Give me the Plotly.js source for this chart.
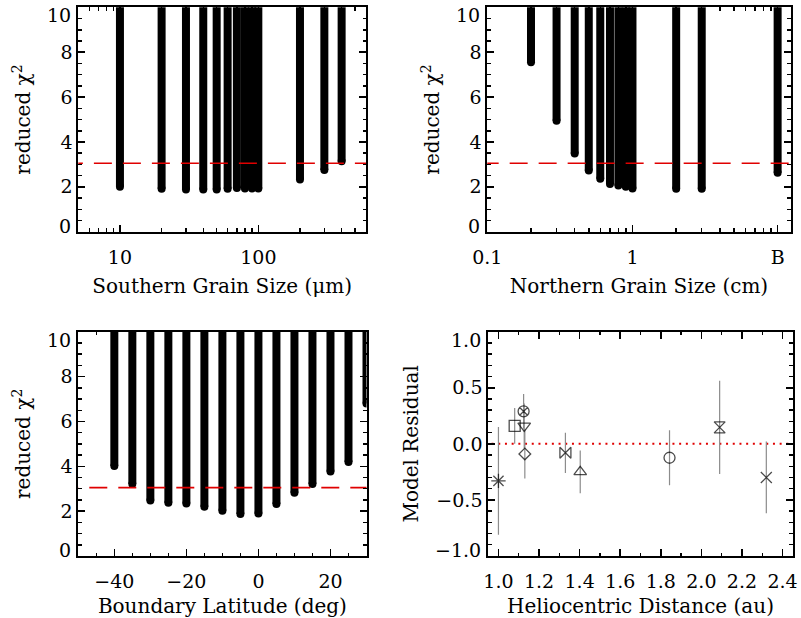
<!DOCTYPE html>
<html>
<head>
<meta charset="utf-8">
<script src="https://cdn.plot.ly/plotly-3.0.1.min.js"></script>
<style>html,body{margin:0;padding:0;background:#fff;} #chart{width:801px;height:618px;}</style>
</head>
<body>
<div id="chart"></div>
<script>
// ---------- data ----------
const southSize = [10, 20, 30, 40, 50, 60, 70, 80, 90, 100, 200, 300, 400];            // µm
const southChi2 = [2.00, 1.91, 1.88, 1.88, 1.88, 1.91, 1.95, 1.93, 1.93, 1.93, 2.33, 2.75, 3.14];
const northSize = [0.2, 0.3, 0.4, 0.5, 0.6, 0.7, 0.8, 0.9, 1.0, 2, 3, 10];             // cm
const northChi2 = [7.55, 4.95, 3.49, 2.73, 2.36, 2.13, 2.06, 2.00, 1.93, 1.91, 1.91, 2.63];
const latitude = [-40, -35, -30, -25, -20, -15, -10, -5, 0, 5, 10, 15, 20, 25, 30];     // deg
const latChi2 = [4.01, 3.21, 2.47, 2.38, 2.34, 2.20, 2.02, 1.87, 1.90, 2.32, 2.82, 3.21, 3.77, 4.19, 6.80];
const chi2Threshold = 3.05;
const chi2Ceiling = 12;   // each curve climbs off the top of the plot

const distance = [1.00, 1.08, 1.124, 1.127, 1.13, 1.33, 1.403, 1.843, 2.09, 2.32];     // au
const residual = [-0.33, 0.16, 0.29, 0.16, -0.09, -0.08, -0.25, -0.124, 0.147, -0.30];
const residErr = [0.48, 0.16, 0.155, 0.20, 0.22, 0.18, 0.19, 0.245, 0.415, 0.32];

const chi2Ticks = [0, 2, 4, 6, 8, 10];
const residTicks = [-1.0, -0.5, 0.0, 0.5, 1.0];
const northTickVals = [0.1, 1, 10];
const northTickText = ['0.1', '1', 'B'];
const southTickVals = [10, 100];
const southTickText = ['10', '100'];

// ---------- styles ----------
const symbols = ['asterisk-open', 'square-open', 'circle-x-open', 'triangle-down-open', 'diamond-open',
                 'bowtie-open', 'triangle-up-open', 'circle-open', 'hourglass-open', 'x-thin-open'];
const symSizes = [12, 11, 11, 11, 9, 11, 11, 11, 11, 11];
const FONT = 'DejaVu Serif, Liberation Serif, serif';
const BAR_W = 8;
const RED = '#e00000';

function curveTraces(xs, ys, xa, ya) {
  const lx = [], ly = [];
  xs.forEach((x, i) => { lx.push(x, x, null); ly.push(ys[i], chi2Ceiling, null); });
  return [
    {x: lx, y: ly, xaxis: xa, yaxis: ya, mode: 'lines', line: {color: '#000', width: BAR_W},
     hoverinfo: 'skip', showlegend: false},
    {x: xs, y: ys, xaxis: xa, yaxis: ya, mode: 'markers',
     marker: {color: '#000', size: BAR_W, line: {width: 0}}, showlegend: false}
  ];
}
function threshold(xr, xa, ya) {
  return {x: xr, y: [chi2Threshold, chi2Threshold], xaxis: xa, yaxis: ya, mode: 'lines',
          line: {color: RED, width: 1.6, dash: '18px,11px'}, hoverinfo: 'skip', showlegend: false};
}

const traces = [];
traces.push(...curveTraces(southSize, southChi2, 'x', 'y'));
traces.push(threshold([4, 700], 'x', 'y'));
traces.push(...curveTraces(northSize, northChi2, 'x2', 'y2'));
traces.push(threshold([0.09, 14], 'x2', 'y2'));
traces.push(...curveTraces(latitude, latChi2, 'x3', 'y3'));
traces.push(threshold([-55, 35], 'x3', 'y3'));
traces.push({x: [0.9, 2.5], y: [0, 0], xaxis: 'x4', yaxis: 'y4', mode: 'lines',
             line: {color: RED, width: 2, dash: '2px,4.7px'}, hoverinfo: 'skip', showlegend: false});
traces.push({x: distance, y: residual, xaxis: 'x4', yaxis: 'y4', mode: 'markers',
             error_y: {type: 'data', array: residErr, visible: true, color: '#8c8c8c', thickness: 1.2, width: 0},
             marker: {symbol: symbols, size: symSizes, color: '#000', line: {color: '#000', width: 1.3}},
             showlegend: false});

const W = 801, H = 618;
const px = (a, b) => [a / W, b / W];
const py = (top, bot) => [1 - bot / H, 1 - top / H];

const tickFont = {family: FONT, size: 19, color: '#000'};
const titleFont = {family: FONT, size: 20, color: '#000'};
const axBase = {
  showline: true, linecolor: '#000', linewidth: 2, mirror: 'allticks',
  ticks: 'inside', ticklen: 7, tickwidth: 1.5, tickcolor: '#000',
  showgrid: false, zeroline: false, tickfont: tickFont, fixedrange: true,
  ticklabeloverflow: 'allow'
};
const xBase = Object.assign({}, axBase, {ticklabelstandoff: 7});
const minorT = (extra) => Object.assign({ticks: 'inside', ticklen: 3.5, tickwidth: 1.5, tickcolor: '#000', showgrid: false}, extra);

// the first and last y labels are nudged inside the frame (as in the original), so they are drawn as annotations
const fmt = (v, dec) => (v < 0 ? '\u2212' : '') + Math.abs(v).toFixed(dec);
function innerText(ticks, dec) { return ticks.map((v, i) => (i === 0 || i === ticks.length - 1) ? '' : fmt(v, dec)); }
const annotations = [];
function endLabels(ticks, dec, xa, ya) {
  const n = ticks.length;
  [[ticks[0], 6], [ticks[n - 1], -8]].forEach(([v, shift]) => {
    annotations.push({xref: xa + ' domain', yref: ya, x: 0, y: v, xanchor: 'right', yanchor: 'middle',
      xshift: -5, yshift: shift, text: fmt(v, dec), showarrow: false, font: tickFont});
  });
}
endLabels(chi2Ticks, 0, 'x', 'y');
endLabels(chi2Ticks, 0, 'x2', 'y2');
endLabels(chi2Ticks, 0, 'x3', 'y3');
endLabels(residTicks, 1, 'x4', 'y4');

const yChi = (dom, anchor) => Object.assign({}, axBase, {
  domain: dom, anchor: anchor, range: [0, 10.003],
  tickvals: chi2Ticks, ticktext: innerText(chi2Ticks, 0),
  minor: minorT({dtick: 0.5, tick0: 0}),
  title: {text: 'reduced χ<sup>2</sup>', font: titleFont, standoff: 24}
});

const layout = {
  width: W, height: H, margin: {l: 0, r: 0, t: 0, b: 0},
  paper_bgcolor: '#fff', plot_bgcolor: '#fff', showlegend: false,
  font: {family: FONT, color: '#000'},
  annotations: annotations,
  xaxis: Object.assign({}, xBase, {
    domain: px(78.3, 366), anchor: 'y', type: 'log', range: [Math.log10(5), Math.log10(600)],
    tickvals: southTickVals, ticktext: southTickText,
    minor: minorT({dtick: 'D1'}),
    title: {text: 'Southern Grain Size (μm)', font: titleFont, standoff: 12}
  }),
  yaxis: yChi(py(7.3, 231.7), 'x'),
  xaxis2: Object.assign({}, xBase, {
    domain: px(487.3, 790.7), anchor: 'y2', type: 'log', range: [-1, 1.09],
    tickvals: northTickVals, ticktext: northTickText,
    minor: minorT({dtick: 'D1'}),
    title: {text: 'Northern Grain Size (cm)', font: titleFont, standoff: 12}
  }),
  yaxis2: yChi(py(7.3, 231.7), 'x2'),
  xaxis3: Object.assign({}, xBase, {
    domain: px(78.3, 366.5), anchor: 'y3', range: [-50, 30], dtick: 20, tick0: 0,
    minor: minorT({dtick: 5}),
    title: {text: 'Boundary Latitude (deg)', font: titleFont, standoff: 12}
  }),
  yaxis3: yChi(py(331.7, 556), 'x3'),
  xaxis4: Object.assign({}, xBase, {
    domain: px(488.3, 792.7), anchor: 'y4', range: [0.95, 2.45], dtick: 0.2, tick0: 1.0,
    tickformat: '.1f', minor: minorT({dtick: 0.1}),
    title: {text: 'Heliocentric Distance (au)', font: titleFont, standoff: 12}
  }),
  yaxis4: Object.assign({}, axBase, {
    domain: py(331.7, 556), anchor: 'x4', range: [-1.0005, 1.0005],
    tickvals: residTicks, ticktext: innerText(residTicks, 1),
    minor: minorT({dtick: 0.1, tick0: 0}),
    title: {text: 'Model Residual', font: titleFont, standoff: 12}
  })
};

Plotly.newPlot('chart', traces, layout, {staticPlot: true, displayModeBar: false});
</script>
</body>
</html>
